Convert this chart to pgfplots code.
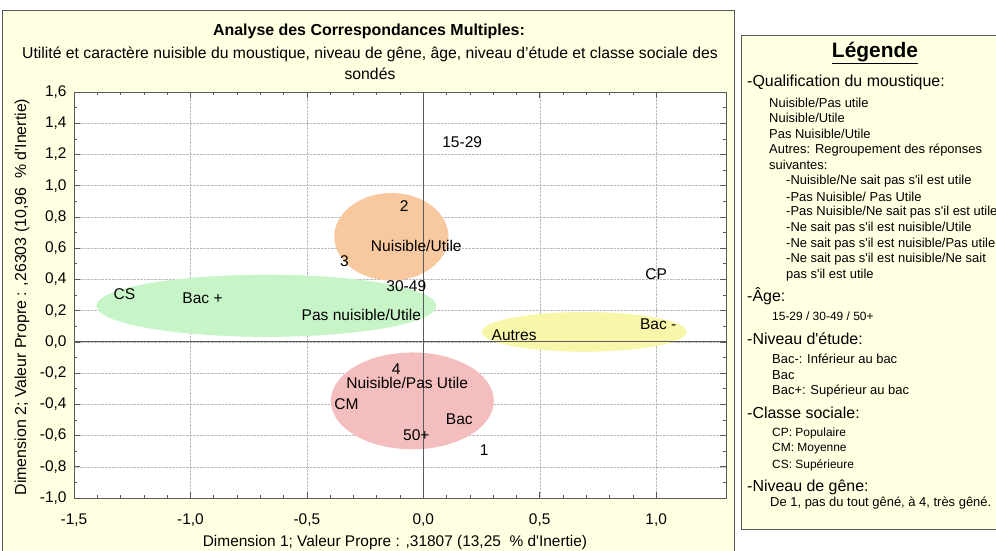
\documentclass[border=0pt]{standalone}
\usepackage{pgfplots}
\usepackage{pgfplotstable}
\pgfplotsset{compat=1.18}
\usepackage{fontspec}
\setmainfont{Liberation Sans}
\definecolor{panel}{RGB}{255,255,225}
\definecolor{frame}{RGB}{90,90,90}
\definecolor{ellO}{RGB}{248,200,158}
\definecolor{ellG}{RGB}{200,245,200}
\definecolor{ellY}{RGB}{248,246,168}
\definecolor{ellR}{RGB}{245,190,190}
\newcommand{\fs}[1]{\fontsize{#1}{#1}\selectfont}
\newcommand{\q}{\textquotesingle}
\pgfplotstableread{
x y label
0.167 1.276 15-29
-0.082 0.872 2
-0.03 0.615 Nuisible/Utile
-0.339 0.519 3
-0.073 0.359 30-49
-1.283 0.308 CS
-0.948 0.282 {Bac +}
-0.266 0.173 {Pas nuisible/Utile}
1.0 0.436 CP
1.009 0.115 {Bac -}
0.39 0.045 Autres
-0.116 -0.173 4
-0.069 -0.263 {Nuisible/Pas Utile}
-0.33 -0.397 CM
0.155 -0.494 Bac
-0.03 -0.596 50+
0.262 -0.692 1
}\pts
\begin{document}
\begin{tikzpicture}
\useasboundingbox (0,0) rectangle (996bp,-551bp);
\fill[white] (0,0) rectangle (996bp,-551bp);
\filldraw[fill=panel,draw=frame] (2bp,-10bp) rectangle (734bp,-560bp);
\filldraw[fill=panel,draw=frame] (741bp,-35bp) rectangle (1005bp,-529bp);
% titles
\node[font=\fs{16}\bfseries] at (369bp,-31bp) {Analyse des Correspondances Multiples:};
\node[font=\fs{15.8}] at (370bp,-54bp) {Utilité et caractère nuisible du moustique, niveau de gêne, âge, niveau d’étude et classe sociale des};
\node[font=\fs{15.8}] at (370bp,-74bp) {sondés};
% axis labels
\node[font=\fs{16},rotate=90] at (22bp,-297bp) {Dimension 2; Valeur Propre : ,26303 (10,96\ \ \% d\q Inertie)};
\node[font=\fs{15.5}] at (395bp,-542bp) {Dimension 1; Valeur Propre : ,31807 (13,25\ \ \% d\q Inertie)};
\begin{axis}[
  at={(74bp,-498bp)}, anchor=south west,
  scale only axis, width=652bp, height=406bp,
  xmin=-1.5, xmax=1.3, ymin=-1, ymax=1.6,
  xtick={-1.5,-1,-0.5,0,0.5,1},
  ytick={-1,-0.8,-0.6,-0.4,-0.2,0,0.2,0.4,0.6,0.8,1,1.2,1.4,1.6},
  minor x tick num=4, minor y tick num=1,
  tick align=inside,
  major tick length=6bp, minor tick length=3bp,
  tick style={frame, line width=0.6pt},
  axis line style={frame, line width=0.8pt},
  grid=major,
  major grid style={densely dotted, gray!55},
  axis background/.style={fill=white},
  tick label style={font=\fs{15.5}},
  xticklabel style={yshift=-12bp},
  yticklabel style={xshift=-4bp},
  /pgf/number format/.cd, use comma, fixed, fixed zerofill, precision=1, assume math mode=true,
]
\fill[ellO] (axis cs:-0.137,0.673) ellipse [x radius=0.245, y radius=0.28];
\fill[ellG] (axis cs:-0.674,0.231) ellipse [x radius=0.73, y radius=0.199];
\fill[ellY] (axis cs:0.691,0.064) ellipse [x radius=0.44, y radius=0.127];
\fill[ellR] (axis cs:-0.047,-0.378) ellipse [x radius=0.35, y radius=0.31];
\draw[frame, line width=0.9pt] (axis cs:0,-1) -- (axis cs:0,1.6);
\draw[frame, line width=0.9pt] (axis cs:-1.5,0) -- (axis cs:1.3,0);
\addplot[only marks, mark=none, nodes near coords, point meta=explicit symbolic,
  nodes near coords align={center},
  every node near coord/.append style={font=\fs{15.6}, anchor=center, inner sep=0pt, text=black}]
  table[x=x, y=y, meta=label] {\pts};
\end{axis}
% legend
\node[font=\fs{21}\bfseries] at (875bp,-53bp) {\underline{Légende}};
\begin{scope}[every node/.style={anchor=west, inner sep=0pt}]
\node[font=\fs{16}] at (747bp,-82bp) {-Qualification du moustique:};
\node[font=\fs{13}] at (769bp,-103bp) {Nuisible/Pas utile};
\node[font=\fs{13}] at (769bp,-118bp) {Nuisible/Utile};
\node[font=\fs{13}] at (769bp,-134bp) {Pas Nuisible/Utile};
\node[font=\fs{13}] at (769bp,-150bp) {Autres: Regroupement des réponses};
\node[font=\fs{13}] at (769bp,-165bp) {suivantes:};
\node[font=\fs{13}] at (786bp,-181bp) {-Nuisible/Ne sait pas s\q il est utile};
\node[font=\fs{13}] at (786bp,-197bp) {-Pas Nuisible/ Pas Utile};
\node[font=\fs{13}] at (786bp,-212bp) {-Pas Nuisible/Ne sait pas s\q il est utile};
\node[font=\fs{13}] at (786bp,-228bp) {-Ne sait pas s\q il est nuisible/Utile};
\node[font=\fs{13}] at (786bp,-244bp) {-Ne sait pas s\q il est nuisible/Pas utile};
\node[font=\fs{13}] at (786bp,-259bp) {-Ne sait pas s\q il est nuisible/Ne sait};
\node[font=\fs{13}] at (786bp,-275bp) {pas s\q il est utile};
\node[font=\fs{16}] at (747bp,-296bp) {-Âge:};
\node[font=\fs{12}] at (772bp,-316bp) {15-29 / 30-49 / 50+};
\node[font=\fs{16}] at (747bp,-339bp) {-Niveau d\q étude:};
\node[font=\fs{13}] at (772bp,-359bp) {Bac-: Inférieur au bac};
\node[font=\fs{13}] at (772bp,-375bp) {Bac};
\node[font=\fs{13}] at (772bp,-391bp) {Bac+: Supérieur au bac};
\node[font=\fs{16}] at (747bp,-413bp) {-Classe sociale:};
\node[font=\fs{12}] at (772bp,-433bp) {CP: Populaire};
\node[font=\fs{12}] at (772bp,-449bp) {CM: Moyenne};
\node[font=\fs{12}] at (772bp,-465bp) {CS: Supérieure};
\node[font=\fs{16}] at (747bp,-487bp) {-Niveau de gêne:};
\node[font=\fs{13}] at (770bp,-503bp) {De 1, pas du tout gêné, à 4, très gêné.};
\end{scope}
\end{tikzpicture}
\end{document}
